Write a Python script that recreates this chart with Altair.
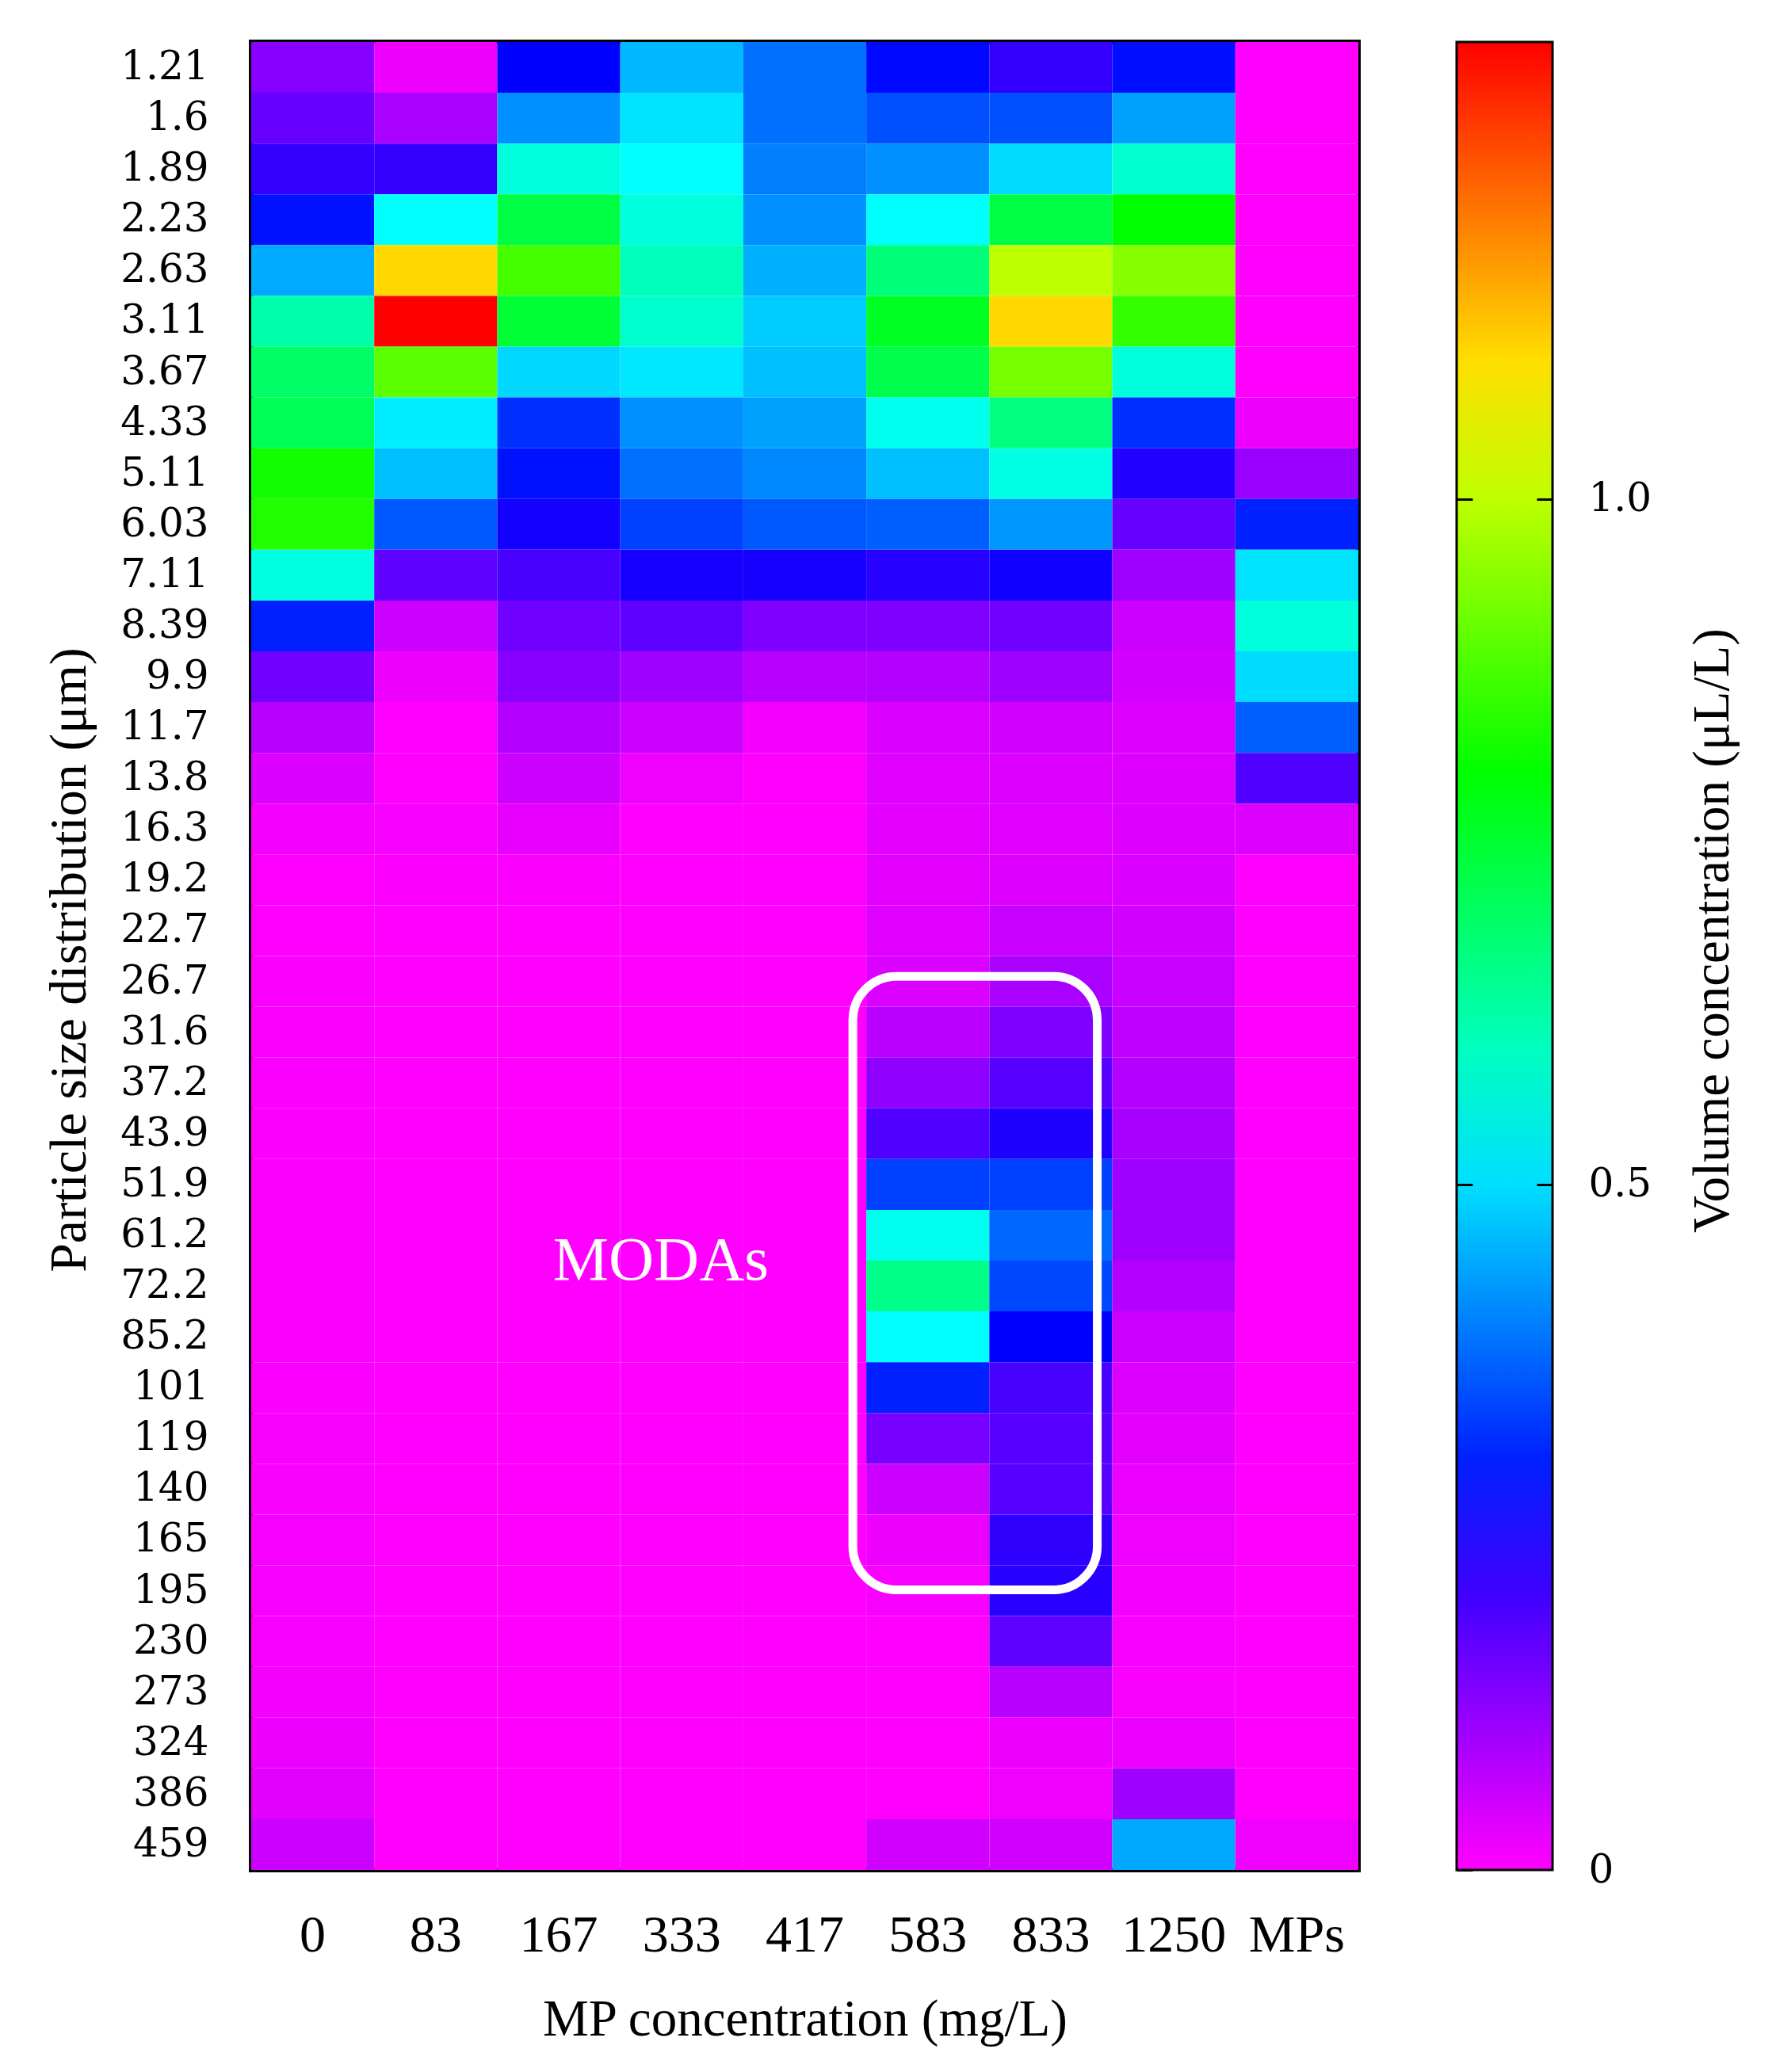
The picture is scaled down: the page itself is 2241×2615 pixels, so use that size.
import altair as alt
import pandas as pd

# Particle size classes (µm), top to bottom
sizes = ["1.21", "1.6", "1.89", "2.23", "2.63", "3.11", "3.67", "4.33", "5.11", "6.03",
         "7.11", "8.39", "9.9", "11.7", "13.8", "16.3", "19.2", "22.7", "26.7", "31.6",
         "37.2", "43.9", "51.9", "61.2", "72.2", "85.2", "101", "119", "140", "165",
         "195", "230", "273", "324", "386", "459"]

# MP concentrations (mg/L)
concs = ["0", "83", "167", "333", "417", "583", "833", "1250", "MPs"]

# Volume concentration (µL/L) per size class, one list per MP concentration
c_0 = [0.124, 0.16, 0.213, 0.284, 0.445, 0.622, 0.693, 0.711, 0.818, 0.836,
       0.565, 0.30, 0.15, 0.074, 0.038, 0.01, 0.0, 0.0, 0.003, 0.003,
       0.003, 0.003, 0.003, 0.003, 0.003, 0.003, 0.003, 0.005, 0.005, 0.007,
       0.007, 0.007, 0.01, 0.018, 0.03, 0.053]
c_83 = [0.018, 0.089, 0.213, 0.533, 1.107, 1.333, 0.896, 0.516, 0.467, 0.359,
        0.166, 0.053, 0.018, 0.0, 0.0, 0.007, 0.003, 0.0, 0.0, 0.0,
        0.0, 0.0, 0.0, 0.0, 0.0, 0.0, 0.0, 0.0, 0.0, 0.0,
        0.0, 0.0, 0.0, 0.0, 0.0, 0.0]
c_167 = [0.267, 0.417, 0.569, 0.729, 0.871, 0.746, 0.493, 0.317, 0.284, 0.246,
         0.191, 0.15, 0.124, 0.08, 0.053, 0.024, 0.003, 0.0, 0.0, 0.0,
         0.0, 0.0, 0.0, 0.0, 0.0, 0.0, 0.0, 0.0, 0.0, 0.0,
         0.0, 0.0, 0.0, 0.0, 0.0, 0.0]
c_333 = [0.459, 0.505, 0.533, 0.569, 0.604, 0.587, 0.509, 0.417, 0.384, 0.334,
         0.242, 0.166, 0.1, 0.053, 0.016, 0.0, 0.0, 0.0, 0.0, 0.0,
         0.0, 0.0, 0.0, 0.0, 0.0, 0.0, 0.0, 0.0, 0.0, 0.0,
         0.0, 0.0, 0.0, 0.0, 0.0, 0.0]
c_417 = [0.384, 0.384, 0.401, 0.417, 0.451, 0.48, 0.467, 0.434, 0.409, 0.359,
         0.242, 0.133, 0.074, 0.01, 0.0, 0.0, 0.0, 0.0, 0.0, 0.0,
         0.0, 0.0, 0.0, 0.0, 0.0, 0.0, 0.0, 0.0, 0.0, 0.0,
         0.0, 0.0, 0.0, 0.0, 0.0, 0.0]
c_583 = [0.275, 0.35, 0.417, 0.533, 0.675, 0.764, 0.72, 0.551, 0.467, 0.367,
         0.225, 0.133, 0.08, 0.038, 0.033, 0.028, 0.028, 0.033, 0.038, 0.071,
         0.116, 0.183, 0.334, 0.551, 0.657, 0.533, 0.30, 0.141, 0.053, 0.018,
         0.007, 0.0, 0.0, 0.0, 0.0, 0.047]
c_833 = [0.213, 0.35, 0.497, 0.729, 0.996, 1.107, 0.924, 0.666, 0.561, 0.426,
         0.25, 0.15, 0.1, 0.047, 0.035, 0.033, 0.035, 0.058, 0.089, 0.133,
         0.175, 0.234, 0.334, 0.375, 0.342, 0.267, 0.191, 0.175, 0.175, 0.216,
         0.225, 0.166, 0.074, 0.018, 0.016, 0.047]
c_1250 = [0.28, 0.434, 0.587, 0.8, 0.942, 0.853, 0.569, 0.317, 0.231, 0.16,
          0.1, 0.053, 0.045, 0.035, 0.035, 0.035, 0.038, 0.047, 0.058, 0.066,
          0.08, 0.091, 0.1, 0.1, 0.078, 0.053, 0.035, 0.028, 0.02, 0.016,
          0.01, 0.007, 0.005, 0.02, 0.1, 0.443]
c_MPs = [0.0, 0.0, 0.0, 0.0, 0.0, 0.0, 0.0, 0.018, 0.107, 0.30,
         0.505, 0.569, 0.497, 0.367, 0.183, 0.035, 0.0, 0.0, 0.0, 0.0,
         0.0, 0.0, 0.0, 0.0, 0.0, 0.0, 0.0, 0.0, 0.0, 0.0,
         0.0, 0.0, 0.0, 0.0, 0.0, 0.016]

columns = [c_0, c_83, c_167, c_333, c_417, c_583, c_833, c_1250, c_MPs]

# Colour scale stops (rainbow: magenta -> blue -> cyan -> green -> yellow -> red)
color_stops = [0.0, 0.2667, 0.5333, 0.8, 1.0667, 1.3333]
color_range = ["#ff00ff", "#0000ff", "#00ffff", "#00ff00", "#ffff00", "#ff0000"]
colorbar_labels = [0.0, 0.5, 1.0]
colorbar_ticks = [0.5, 1.0]

# Annotation
box_data = pd.DataFrame({"x1": ["583"], "x2": ["833"], "y1": ["26.7"], "y2": ["195"]})
label_data = pd.DataFrame({"conc": ["333"], "size": ["72.2"], "label": ["MODAs"]})
tick_data = pd.DataFrame({"v": colorbar_labels})

rows = []
for conc, vals in zip(concs, columns):
    for s, v in zip(sizes, vals):
        rows.append({"conc": conc, "size": s, "value": v})
df = pd.DataFrame(rows)

W, H = 1397, 2307
LEG_X, LEG_T = 1521, 121
SERIF = "Liberation Serif"
LABEL_SERIF = "DejaVu Serif"

xscale = alt.Scale(domain=concs, paddingInner=0, paddingOuter=0)
yscale = alt.Scale(domain=sizes, paddingInner=0, paddingOuter=0)

heat = alt.Chart(df).mark_rect().encode(
    x=alt.X("conc:N", scale=xscale, sort=concs,
            axis=alt.Axis(orient="bottom", labelAngle=0, labelFont=SERIF, labelFontSize=66,
                          labelPadding=50, ticks=False, domain=False, labelColor="black",
                          title="MP concentration (mg/L)", titleFont=SERIF, titleFontSize=65,
                          titleFontWeight="normal", titleColor="black", titleY=188,
                          titleBaseline="middle")),
    y=alt.Y("size:N", scale=yscale, sort=sizes,
            axis=alt.Axis(labelFont=LABEL_SERIF, labelFontSize=50, labelPadding=54,
                          ticks=False, domain=False, labelColor="black", labelOverlap=False,
                          title="Particle size distribution (μm)", titleFont=SERIF,
                          titleFontSize=66, titleFontWeight="normal", titleColor="black",
                          titleX=-230, titleY=1158, titleAngle=270, titleBaseline="middle",
                          titleAlign="center")),
    color=alt.Color("value:Q",
                    scale=alt.Scale(domain=color_stops, range=color_range,
                                    interpolate="rgb", clamp=True),
                    legend=alt.Legend(orient="none", legendX=LEG_X, legendY=0,
                                      direction="vertical", gradientLength=H,
                                      gradientThickness=LEG_T, values=colorbar_labels,
                                      labelExpr="''", labelOverlap=False,
                                      gradientStrokeColor="black", gradientStrokeWidth=3,
                                      title=None, padding=0)),
)

box = alt.Chart(box_data).mark_rect(
    filled=False, color="white", strokeWidth=11, cornerRadius=55,
    xOffset=-17, x2Offset=-19
).encode(
    x=alt.X("x1:N", scale=xscale, bandPosition=0),
    x2=alt.X2("x2:N", bandPosition=1),
    y=alt.Y("y1:N", scale=yscale, bandPosition=0.4),
    y2=alt.Y2("y2:N", bandPosition=0.485),
)

label = alt.Chart(label_data).mark_text(
    font=SERIF, fontSize=79, color="white", align="center", baseline="middle"
).encode(
    x=alt.X("conc:N", scale=xscale, bandPosition=0.33),
    y=alt.Y("size:N", scale=yscale, bandPosition=0),
    text="label:N",
)

# colour-bar ticks and labels drawn as axes placed on the colour bar edges (above the legend)
tscale = alt.Scale(domain=[color_stops[0], color_stops[-1]], nice=False, zero=True)

cb_left = alt.Chart(tick_data).mark_rule(strokeOpacity=0).encode(
    y=alt.Y("v:Q", scale=tscale,
            axis=alt.Axis(orient="right", offset=LEG_X - W, values=colorbar_labels,
                          tickSize=20, tickWidth=3, tickColor="black", domain=False,
                          grid=False, title=None, zindex=1, labelOverlap=False,
                          labelExpr="datum.value == 0 ? '0' : format(datum.value, '.1f')",
                          labelFont=LABEL_SERIF, labelFontSize=50, labelColor="black",
                          labelPadding=LEG_T + 45 - 20, labelBaseline="middle")),
    x=alt.value(LEG_X), x2=alt.value(LEG_X + 1),
)
cb_right = alt.Chart(tick_data).mark_rule(strokeOpacity=0).encode(
    y=alt.Y("v:Q", scale=tscale,
            axis=alt.Axis(orient="left", offset=-(LEG_X + LEG_T), values=colorbar_ticks,
                          tickSize=20, tickWidth=3, tickColor="black", domain=False,
                          grid=False, title=None, zindex=1, labels=False)),
    x=alt.value(LEG_X + LEG_T - 1), x2=alt.value(LEG_X + LEG_T),
)

heat_layer = alt.layer(heat, box, label)

chart = alt.layer(heat_layer, cb_left, cb_right).resolve_scale(
    y="independent"
).resolve_axis(
    y="independent"
).properties(
    width=W, height=H,
    autosize=alt.AutoSizeParams(type="none"),
    padding={"left": 309, "top": 45, "right": 519, "bottom": 247},
    title=alt.TitleParams(text="Volume concentration (μL/L)", orient="right", angle=270,
                          frame="group", anchor="middle", offset=12, dx=32, font=SERIF,
                          fontSize=65, fontWeight="normal", color="black", baseline="middle"),
).configure_view(
    stroke="black", strokeWidth=6
).configure_legend(
    gradientVerticalMaxLength=3000
)

chart.save("out.html", embed_options={"renderer": "svg", "actions": False})
